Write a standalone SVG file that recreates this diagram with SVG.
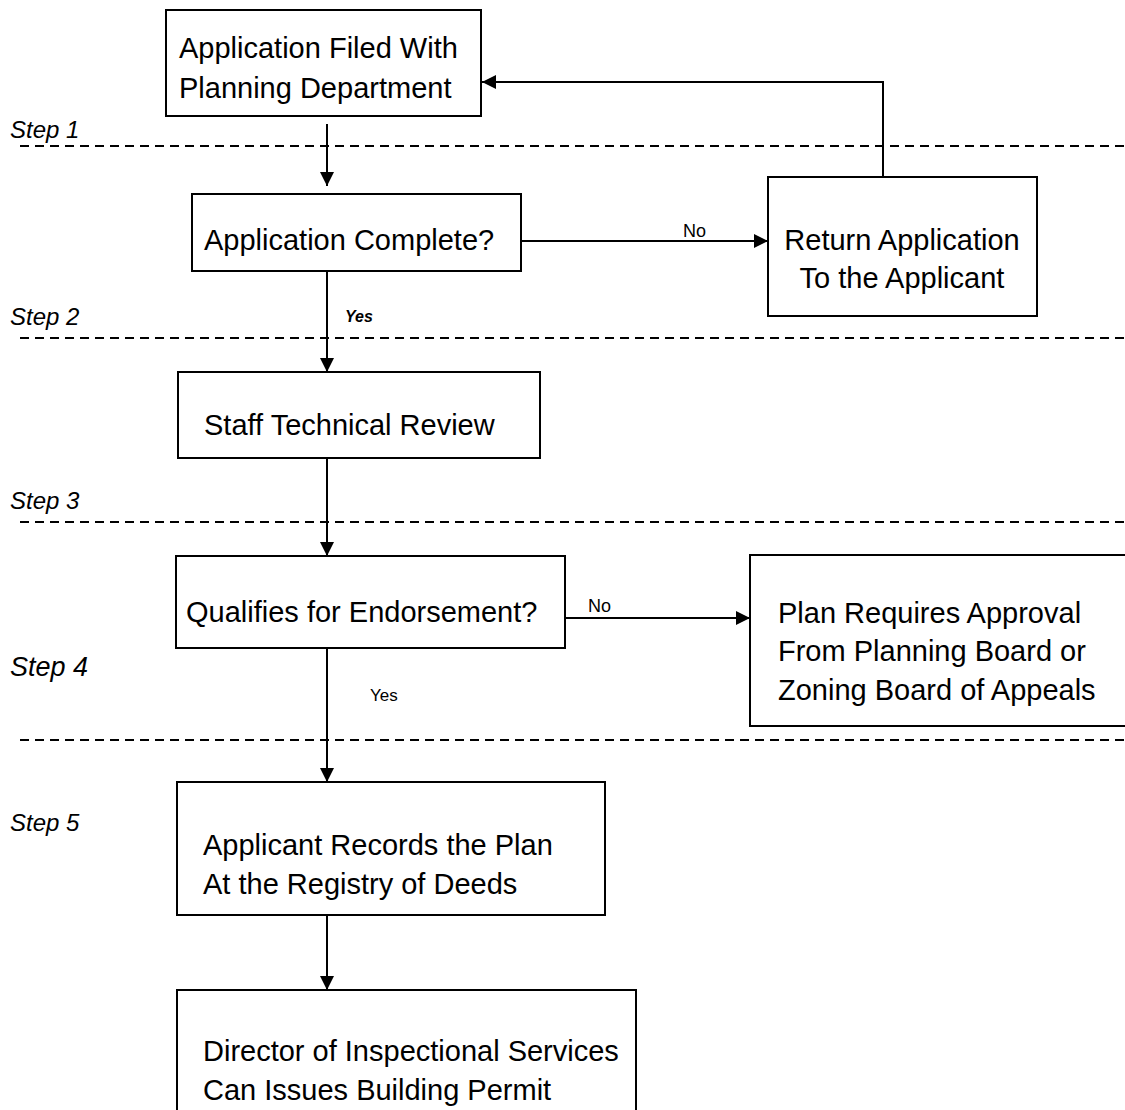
<svg xmlns="http://www.w3.org/2000/svg" width="1125" height="1110" viewBox="0 0 1125 1110">
<defs>
<style>
.box{fill:#fff;stroke:#000;stroke-width:2}
.t{font-family:"Liberation Sans",Arial,sans-serif;font-size:29px;fill:#000}
.step{font-family:"Liberation Sans",Arial,sans-serif;font-size:24px;font-style:italic;fill:#000}
.lbl{font-family:"Liberation Sans",Arial,sans-serif;font-size:18px;fill:#000}
.dash{stroke:#000;stroke-width:2;stroke-dasharray:9 6;fill:none}
.c{stroke:#000;stroke-width:2;fill:none}
</style>
<marker id="ah" markerWidth="14" markerHeight="14" refX="14" refY="7" orient="auto" markerUnits="userSpaceOnUse">
<path d="M0,0 L14,7 L0,14 Z" fill="#000"/>
</marker>
</defs>
<rect width="1125" height="1110" fill="#fff"/>

<g id="steps">
<text class="step" x="10" y="138">Step 1</text>
<text class="step" x="10" y="325">Step 2</text>
<text class="step" x="10" y="509">Step 3</text>
<text class="step" x="10" y="676" style="font-size:27px">Step 4</text>
<text class="step" x="10" y="831">Step 5</text>
<line class="dash" x1="20" y1="146" x2="1125" y2="146"/>
<line class="dash" x1="20" y1="338" x2="1125" y2="338"/>
<line class="dash" x1="20" y1="522" x2="1125" y2="522"/>
<line class="dash" x1="20" y1="740" x2="1125" y2="740"/>
</g>

<g id="connectors">
<line class="c" x1="327" y1="124" x2="327" y2="186" marker-end="url(#ah)"/>
<line class="c" x1="522" y1="241" x2="768" y2="241" marker-end="url(#ah)"/>
<polyline class="c" points="883,177 883,82 482,82" marker-end="url(#ah)"/>
<line class="c" x1="327" y1="270" x2="327" y2="372" marker-end="url(#ah)"/>
<line class="c" x1="327" y1="458" x2="327" y2="556" marker-end="url(#ah)"/>
<line class="c" x1="565" y1="618" x2="750" y2="618" marker-end="url(#ah)"/>
<line class="c" x1="327" y1="648" x2="327" y2="782" marker-end="url(#ah)"/>
<line class="c" x1="327" y1="915" x2="327" y2="990" marker-end="url(#ah)"/>
<text class="lbl" x="683" y="237">No</text>
<text class="lbl" x="345" y="322" style="font-size:16px;font-weight:bold;font-style:italic">Yes</text>
<text class="lbl" x="588" y="612">No</text>
<text class="lbl" x="370" y="701" style="font-size:17px">Yes</text>
</g>

<g id="n1">
<rect class="box" x="166" y="10" width="315" height="106"/>
<text class="t" x="179" y="58">Application Filed With</text>
<text class="t" x="179" y="98">Planning Department</text>
</g>
<g id="n2">
<rect class="box" x="192" y="194" width="329" height="77"/>
<text class="t" x="204" y="250">Application Complete?</text>
</g>
<g id="n3">
<rect class="box" x="768" y="177" width="269" height="139"/>
<text class="t" x="902" y="250" text-anchor="middle">Return Application</text>
<text class="t" x="902" y="288" text-anchor="middle">To the Applicant</text>
</g>
<g id="n4">
<rect class="box" x="178" y="372" width="362" height="86"/>
<text class="t" x="204" y="435">Staff Technical Review</text>
</g>
<g id="n5">
<rect class="box" x="176" y="556" width="389" height="92"/>
<text class="t" x="186" y="622">Qualifies for Endorsement?</text>
</g>
<g id="n6">
<rect class="box" x="750" y="555" width="390" height="171"/>
<text class="t" x="778" y="623">Plan Requires Approval</text>
<text class="t" x="778" y="661">From Planning Board or</text>
<text class="t" x="778" y="700">Zoning Board of Appeals</text>
</g>
<g id="n7">
<rect class="box" x="177" y="782" width="428" height="133"/>
<text class="t" x="203" y="855">Applicant Records the Plan</text>
<text class="t" x="203" y="894">At the Registry of Deeds</text>
</g>
<g id="n8">
<rect class="box" x="177" y="990" width="459" height="130"/>
<text class="t" x="203" y="1061">Director of Inspectional Services</text>
<text class="t" x="203" y="1100">Can Issues Building Permit</text>
</g>
</svg>
